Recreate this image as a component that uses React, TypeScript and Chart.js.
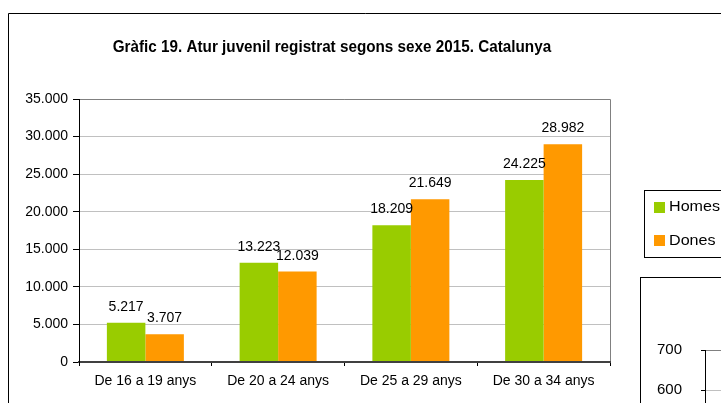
import React, { useEffect, useRef } from 'react';
import { Chart, registerables } from 'chart.js';

Chart.register(...registerables);

const categories = ['De 16 a 19 anys', 'De 20 a 24 anys', 'De 25 a 29 anys', 'De 30 a 34 anys'];
const homes = [5217, 13223, 18209, 24225];
const dones = [3707, 12039, 21649, 28982];
const seriesNames = ['Homes', 'Dones'];
const seriesColors = ['#99CC00', '#FF9900'];
const yMin = 0;
const yMax = 35000;
const yStep = 5000;
const chartTitle = 'Gràfic 19. Atur juvenil registrat segons sexe 2015. Catalunya';

// partially visible neighbouring chart (only its y-axis is in view)
const fragmentYMin = 300;
const fragmentYMax = 700;
const fragmentYStep = 100;

const FONT = '"Liberation Sans", Arial, Helvetica, sans-serif';
const fmt = (n: number) => String(Math.round(n)).replace(/\B(?=(\d{3})+(?!\d))/g, '.');
const px = (v: number) => Math.floor(v) + 0.5;

const decorPlugin = {
  id: 'decor',
  beforeDraw(chart: any) {
    const ctx = chart.ctx;
    ctx.save();
    ctx.fillStyle = '#fff';
    ctx.fillRect(0, 0, chart.width, chart.height);
    // outer frame
    ctx.strokeStyle = '#000';
    ctx.lineWidth = 1;
    ctx.beginPath();
    ctx.moveTo(8.5, chart.height + 5);
    ctx.lineTo(8.5, 13.5);
    ctx.lineTo(chart.width + 5, 13.5);
    ctx.stroke();
    // title (condensed bold)
    ctx.font = `bold 17px ${FONT}`;
    ctx.fillStyle = '#000';
    ctx.textAlign = 'left';
    ctx.textBaseline = 'alphabetic';
    const sub = chartTitle.slice(0, chartTitle.indexOf(' segons'));
    const sx = 223 / ctx.measureText(sub).width;
    ctx.translate(112.7, 51.7);
    ctx.scale(sx, 1);
    ctx.fillText(chartTitle, 0, 0);
    ctx.restore();
  },
  beforeDatasetsDraw(chart: any) {
    const { ctx, chartArea } = chart;
    ctx.save();
    ctx.strokeStyle = '#808080';
    ctx.lineWidth = 1;
    ctx.beginPath();
    ctx.moveTo(chartArea.left, px(chartArea.top));
    ctx.lineTo(px(chartArea.right), px(chartArea.top));
    ctx.lineTo(px(chartArea.right), chartArea.bottom);
    ctx.stroke();
    ctx.restore();
  },
  afterDatasetsDraw(chart: any) {
    const ctx = chart.ctx;
    ctx.save();
    ctx.font = `14px ${FONT}`;
    ctx.fillStyle = '#000';
    ctx.textAlign = 'center';
    ctx.textBaseline = 'alphabetic';
    chart.data.datasets.forEach((ds: any, i: number) => {
      const meta = chart.getDatasetMeta(i);
      meta.data.forEach((el: any, j: number) => {
        ctx.fillText(fmt(ds.data[j]), el.x, el.y - 12);
      });
    });
    ctx.restore();
  },
  afterDraw(chart: any) {
    const ctx = chart.ctx;
    ctx.save();
    ctx.fillStyle = '#fff';
    ctx.fillRect(644.5, 190.5, 120, 67);
    ctx.strokeStyle = '#000';
    ctx.lineWidth = 1;
    ctx.strokeRect(644.5, 190.5, 120, 67);
    ctx.font = `14px ${FONT}`;
    ctx.textAlign = 'left';
    ctx.textBaseline = 'middle';
    chart.data.datasets.forEach((ds: any, i: number) => {
      const cy = 207 + i * 33.3;
      ctx.fillStyle = ds.backgroundColor;
      ctx.fillRect(654, Math.round(cy - 5.5), 11, 11);
      ctx.fillStyle = '#000';
      ctx.save();
      ctx.translate(669, cy + 0.5);
      ctx.scale(1.15, 1);
      ctx.fillText(ds.label, 0, 0);
      ctx.restore();
    });
    ctx.restore();
  },
};

const fragmentPlugin = {
  id: 'fragDecor',
  beforeDatasetsDraw(chart: any) {
    const { ctx, chartArea } = chart;
    ctx.save();
    ctx.strokeStyle = '#808080';
    ctx.lineWidth = 1;
    ctx.beginPath();
    ctx.moveTo(chartArea.left, px(chartArea.top));
    ctx.lineTo(chartArea.right + 10, px(chartArea.top));
    ctx.stroke();
    ctx.restore();
  },
};

export default function App() {
  const mainRef = useRef<HTMLCanvasElement | null>(null);
  const fragRef = useRef<HTMLCanvasElement | null>(null);

  useEffect(() => {
    if (!mainRef.current || !fragRef.current) return;
    const main = new Chart(mainRef.current, {
      type: 'bar',
      data: {
        labels: categories,
        datasets: [
          { label: seriesNames[0], data: homes, backgroundColor: seriesColors[0], borderWidth: 0, categoryPercentage: 0.58, barPercentage: 1 },
          { label: seriesNames[1], data: dones, backgroundColor: seriesColors[1], borderWidth: 0, categoryPercentage: 0.58, barPercentage: 1 },
        ],
      },
      options: {
        responsive: false,
        animation: false,
        devicePixelRatio: 1,
        layout: { padding: { left: 0, right: 111, top: 99, bottom: 0 } },
        plugins: {
          legend: { display: false },
          title: { display: false },
          tooltip: { enabled: false },
        },
        scales: {
          x: {
            grid: { display: true, drawOnChartArea: false, drawTicks: true, tickLength: 4, tickColor: '#000', offset: true },
            border: { display: true, color: '#404040', width: 2, z: 1 },
            ticks: { color: '#000', font: { family: FONT, size: 14 }, padding: 7, maxRotation: 0, autoSkip: false },
            afterFit: (s: any) => { s.height = 41; },
          },
          y: {
            min: yMin,
            max: yMax,
            ticks: { stepSize: yStep, color: '#000', font: { family: FONT, size: 14 }, padding: 5, callback: (v: any) => fmt(Number(v)) },
            grid: { color: '#c0c0c0', tickColor: '#000', tickLength: 6 },
            border: { display: true, color: '#000', width: 1, z: 1 },
            afterFit: (s: any) => { s.width = 79; },
          },
        },
      } as any,
      plugins: [decorPlugin],
    });

    const frag = new Chart(fragRef.current, {
      type: 'bar',
      data: { labels: [''], datasets: [{ label: '', data: [] }] },
      options: {
        responsive: false,
        animation: false,
        devicePixelRatio: 1,
        layout: { padding: { left: 0, right: 0, top: 72, bottom: 25 } },
        plugins: { legend: { display: false }, tooltip: { enabled: false } },
        scales: {
          x: { display: false },
          y: {
            min: fragmentYMin,
            max: fragmentYMax,
            ticks: { stepSize: fragmentYStep, color: '#000', font: { family: FONT, size: 15 }, padding: 19 },
            grid: { color: '#c0c0c0', tickColor: '#000', tickLength: 4 },
            border: { display: true, color: '#000', width: 1, z: 1 },
            afterFit: (s: any) => { s.width = 64; },
          },
        },
      } as any,
      plugins: [fragmentPlugin],
    });

    return () => {
      main.destroy();
      frag.destroy();
    };
  }, []);

  return (
    <div style={{ position: 'absolute', left: 0, top: 0, width: 721, height: 403, overflow: 'hidden', background: '#fff' }}>
      <canvas ref={mainRef} width={721} height={403} style={{ position: 'absolute', left: 0, top: 0 }} />
      <div
        style={{
          position: 'absolute',
          left: 640,
          top: 277,
          width: 200,
          height: 200,
          borderLeft: '1px solid #000',
          borderTop: '1px solid #000',
          background: '#fff',
        }}
      >
        <canvas ref={fragRef} width={100} height={260} style={{ position: 'absolute', left: 0, top: 0 }} />
      </div>
    </div>
  );
}
